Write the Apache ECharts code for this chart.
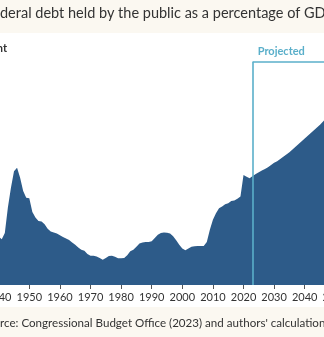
<!DOCTYPE html>
<html>
<head>
<meta charset="utf-8">
<script src="https://cdn.jsdelivr.net/npm/echarts@6/dist/echarts.min.js"></script>
<style>
  html, body { margin: 0; padding: 0; background: #fbf8f1; }
  #chart { width: 324px; height: 337px; }
</style>
</head>
<body>
<div id="chart"></div>
<script>
// Fiscal years, historical through 2022, CBO projection from 2023
const years = [
  1940, 1941, 1942, 1943, 1944, 1945, 1946, 1947, 1948, 1949,
  1950, 1951, 1952, 1953, 1954, 1955, 1956, 1957, 1958, 1959,
  1960, 1961, 1962, 1963, 1964, 1965, 1966, 1967, 1968, 1969,
  1970, 1971, 1972, 1973, 1974, 1975, 1976, 1977, 1978, 1979,
  1980, 1981, 1982, 1983, 1984, 1985, 1986, 1987, 1988, 1989,
  1990, 1991, 1992, 1993, 1994, 1995, 1996, 1997, 1998, 1999,
  2000, 2001, 2002, 2003, 2004, 2005, 2006, 2007, 2008, 2009,
  2010, 2011, 2012, 2013, 2014, 2015, 2016, 2017, 2018, 2019,
  2020, 2021, 2022, 2023, 2024, 2025, 2026, 2027, 2028, 2029,
  2030, 2031, 2032, 2033, 2034, 2035, 2036, 2037, 2038, 2039,
  2040, 2041, 2042, 2043, 2044, 2045, 2046, 2047, 2048, 2049,
  2050, 2051, 2052, 2053
];

// Debt held by the public, percent of GDP
const debtPct = [
  43.5, 41.5, 47.0, 70.0, 88.0, 103.0, 106.0, 97.0, 85.0, 79.0,
  78.5, 66.0, 61.0, 58.0, 57.5, 55.0, 51.0, 48.5, 47.5, 46.5,
  45.0, 43.5, 42.0, 40.7, 38.5, 36.5, 34.0, 32.0, 31.0, 28.0,
  26.5, 26.5, 25.8, 24.5, 22.8, 24.5, 26.2, 26.5, 25.5, 24.3,
  24.2, 24.5, 27.0, 30.5, 32.0, 34.5, 37.5, 38.5, 39.0, 39.0,
  39.5, 42.5, 45.5, 47.0, 47.5, 47.3, 46.7, 44.0, 40.5, 36.5,
  33.0, 31.5, 33.0, 34.5, 35.0, 35.3, 35.2, 35.3, 39.0, 50.0,
  59.0, 65.0, 69.5, 71.0, 73.0, 74.0, 76.0, 76.5, 78.0, 80.0,
  99.5, 98.0, 96.5, 98.5, 100.5, 102.0, 103.5, 105.0, 106.5, 108.5,
  110.5, 112.0, 114.0, 116.0, 118.0, 120.0, 122.5, 125.0, 127.5, 130.0,
  132.5, 135.0, 137.5, 140.0, 142.5, 145.0, 148.0, 151.0, 154.5, 158.0,
  162.0, 166.0, 170.5, 175.0
];

const projectionStart = 2023;
const projectionEnd = 2053;
const bracketLevel = 202;

const titleText = 'Federal debt held by the public as a percentage of GDP';
const sourceText = "Source: Congressional Budget Office (2023) and authors' calculations.";
const yAxisName = 'Percent';
const projectedLabel = 'Projected';

const FONT = 'Lato, "Noto Sans", sans-serif';
const ink = '#333333';
const areaBlue = '#2d5b89';
const teal = '#5aafca';

// The frame is wider than the window; measure the clipped leading text
const measure = (txt, size, weight) => {
  const c = document.createElement('canvas').getContext('2d');
  c.font = (weight || 'normal') + ' ' + size + 'px ' + FONT;
  return c.measureText(txt).width;
};

const seriesData = years.map((y, i) => [y, debtPct[i]]);

const chart = echarts.init(document.getElementById('chart'), null, { renderer: 'canvas' });

chart.setOption({
  backgroundColor: '#fbf8f1',
  animation: false,
  graphic: [
    {
      type: 'rect', z: -10, silent: true,
      shape: { x: 0, y: 33, width: 324, height: 274 },
      style: { fill: '#ffffff' }
    },
    {
      type: 'text', z: 10, silent: true,
      style: {
        text: titleText, x: -measure('Fe', 14.5), y: 13,
        verticalAlign: 'middle', fill: ink,
        font: 'normal 14.5px ' + FONT
      }
    },
    {
      type: 'text', z: 10, silent: true,
      style: {
        text: yAxisName, x: 7, y: 48, align: 'right',
        verticalAlign: 'middle', fill: ink,
        font: 'bold 11px ' + FONT
      }
    },
    {
      type: 'text', z: 10, silent: true,
      style: {
        text: sourceText, x: -measure('Sou', 11.6), y: 323,
        verticalAlign: 'middle', fill: ink,
        font: 'normal 11.6px ' + FONT
      }
    }
  ],
  grid: {
    left: -1.3, right: -20.5, top: 58.4, bottom: 52,
    containLabel: false, outerBoundsMode: 'none'
  },
  xAxis: {
    type: 'value', min: 1940, max: 2053, interval: 10,
    axisLine: { show: false },
    axisTick: { show: true, length: 4, lineStyle: { color: '#555', width: 1 } },
    axisLabel: {
      color: ink, fontSize: 11, fontFamily: FONT, margin: 7,
      showMaxLabel: false, formatter: v => String(v)
    },
    splitLine: { show: false }
  },
  yAxis: {
    type: 'value', min: 0, max: 205,
    axisLine: { show: false }, axisTick: { show: false },
    axisLabel: { show: false }, splitLine: { show: false }
  },
  series: [{
    type: 'line',
    data: seriesData,
    symbol: 'none',
    lineStyle: { width: 0 },
    areaStyle: { color: areaBlue, opacity: 1 },
    markLine: {
      silent: true,
      symbol: 'none',
      lineStyle: { color: teal, width: 1.6, type: 'solid' },
      label: { show: false },
      data: [
        [{ coord: [projectionStart, 0] }, { coord: [projectionStart, bracketLevel] }],
        [
          {
            coord: [projectionStart, bracketLevel],
            label: {
              show: true, formatter: projectedLabel, position: 'insideStartTop',
              color: teal, fontSize: 11, fontWeight: 'bold', fontFamily: FONT,
              distance: 5
            }
          },
          { coord: [projectionEnd, bracketLevel] }
        ]
      ]
    }
  }]
});
</script>
</body>
</html>
